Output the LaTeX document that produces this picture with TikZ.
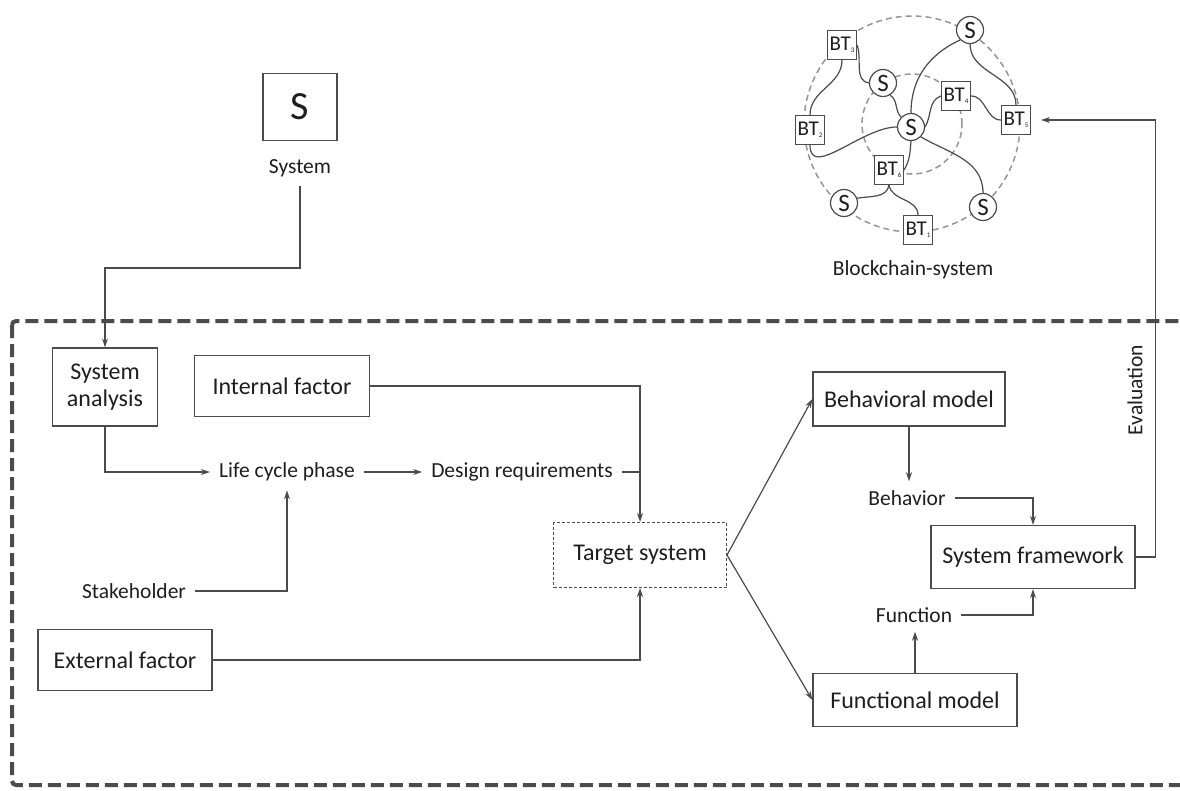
\documentclass[tikz,border=0pt]{standalone}
\usepackage{fontspec}
\setmainfont{Carlito}
\usetikzlibrary{arrows.meta,positioning}
\definecolor{linegray}{RGB}{75,75,75}
\definecolor{textgray}{RGB}{30,30,30}
\definecolor{ringgray}{RGB}{150,150,150}
\newcommand{\btlabel}[1]{BT\raisebox{-2pt}{\fontsize{7}{7}\selectfont #1}}

\begin{document}
\begin{tikzpicture}[
    x=1pt, y=1pt,
    box/.style={rectangle, draw=linegray, line width=1.3pt, align=center, text=textgray, font=\fontsize{24}{27}\selectfont, inner sep=0pt},
    lbl/.style={text=textgray, font=\fontsize{21.5}{24}\selectfont, inner sep=9pt},
    arrow/.style={-{Stealth[length=9pt,width=6pt]}, line width=1.2pt, draw=linegray},
    conn/.style={line width=1.2pt, draw=linegray},
    sbox/.style={circle, draw=linegray, line width=1.2pt, fill=white, minimum size=27pt, inner sep=0pt, text=textgray, font=\fontsize{25}{25}\selectfont},
    btbox/.style={rectangle, draw=linegray, line width=1.2pt, fill=white, minimum size=29pt, inner sep=0pt, text=textgray, font=\fontsize{21}{21}\selectfont},
    ring/.style={draw=ringgray, line width=1.5pt, dash pattern=on 6pt off 4pt},
    frame/.style={draw=linegray, line width=4pt, dash pattern=on 13pt off 6pt, rounded corners=4pt}
]
    \clip (0,0) rectangle (1180,-790);

    % Design frame
    \draw[frame] (12,-321) rectangle (1200,-785);

    % System on top
    \node[box, minimum width=74pt, minimum height=67pt, font=\fontsize{40}{40}\selectfont] (sys) at (300,-107) {S};
    \node[lbl] (syslbl) at (300,-168) {System};
    \coordinate (knee) at (300,-268);

    % Left part
    \node[box, minimum width=105pt, minimum height=78pt] (sa) at (105,-387) {System\\analysis};
    \node[box, minimum width=175pt, minimum height=61pt] (inf) at (282,-386) {Internal factor};
    \node[lbl] (lcp) at (287,-472) {Life cycle phase};
    \node[lbl] (dr) at (522,-472) {Design requirements};
    \node[lbl] (stk) at (134,-591) {Stakeholder};
    \node[box, minimum width=174pt, minimum height=61pt] (exf) at (125,-660) {External factor};
    \node[box, dash pattern=on 3pt off 2pt, line width=1pt, minimum width=173pt, minimum height=65pt] (ts) at (640,-555) {Target system};

    % Right part
    \node[box, minimum width=192pt, minimum height=54pt] (bm) at (909,-399) {Behavioral model};
    \node[lbl] (beh) at (907,-498) {Behavior};
    \node[box, minimum width=204pt, minimum height=63pt] (sf) at (1033,-557) {System framework};
    \node[lbl] (fun) at (914,-615) {Function};
    \node[box, minimum width=204pt, minimum height=53pt] (fm) at (915,-700) {Functional model};
    \node[lbl, rotate=90] (eva) at (1135,-390) {Evaluation};

    % Blockchain system
    \coordinate (hub) at (912,-124);
    \draw[ring] (hub) circle[radius=108];
    \draw[ring] (hub) circle[radius=50];
    \node[sbox] (s0) at (911,-127) {S};
    \node[sbox] (s1) at (970,-30) {S};
    \node[sbox] (s2) at (883,-83) {S};
    \node[sbox] (s3) at (844,-203) {S};
    \node[sbox] (s4) at (983,-207) {S};
    \node[btbox] (bt1) at (918,-230) {\btlabel{1}};
    \node[btbox] (bt2) at (810,-130) {\btlabel{2}};
    \node[btbox] (bt3) at (842,-45) {\btlabel{3}};
    \node[btbox] (bt4) at (956,-96) {\btlabel{4}};
    \node[btbox] (bt5) at (1016,-120) {\btlabel{5}};
    \node[btbox] (bt6) at (889,-170) {\btlabel{6}};
    \node[lbl] (bcs) at (913,-270) {Blockchain-system};

    \draw[conn] (bt3.south) to[out=-90,in=90] (bt2.north);
    \draw[conn] (bt3.east) to[out=-70,in=170] (s2.west);
    \draw[conn] (s2.-60) to[out=-30,in=135] (s0.135);
    \draw[conn] (s1.south west) to[out=-155,in=90] (s0.north);
    \draw[conn] (s1.south) to[out=-90,in=90] (bt5.north);
    \draw[conn] (bt4.east) to[out=0,in=180] (bt5.west);
    \draw[conn] (bt4.west) to[out=-160,in=60] (s0.east);
    \draw[conn] (bt2.south) to[out=-90,in=180] (s0.west);
    \draw[conn] (s0.south) to[out=-95,in=60] (bt6.east);
    \draw[conn] (s0.south east) to[out=-30,in=90] (s4.north);
    \draw[conn] (s3.20) to[out=10,in=-100] (bt6.south);
    \draw[conn] (bt6.south) to[out=-80,in=90] (bt1.north);

    % Connectors
    \draw[arrow] (syslbl.south) -- (knee) -| (sa.north);
    \draw[arrow] (sa.south) |- (lcp.west);
    \draw[arrow] (lcp.east) -- (dr.west);
    \draw[arrow] (inf.east) -| (ts.north);
    \draw[conn] (dr.east) -- (dr.east -| ts.north);
    \draw[arrow] (stk.east) -| (lcp.south);
    \draw[arrow] (exf.east) -| (ts.south);
    \draw[arrow] (ts.east) -- (bm.west);
    \draw[arrow] (ts.east) -- (fm.west);
    \draw[arrow] (bm.south) -- (bm.south |- beh.north);
    \draw[arrow] (beh.east) -| (sf.north);
    \draw[arrow] (fm.north) -- (fm.north |- fun.south);
    \draw[arrow] (fun.east) -| (sf.south);
    \draw[arrow, shorten >=10pt] (sf.east) -- ++(20,0) |- (bt5.east);
\end{tikzpicture}
\end{document}
